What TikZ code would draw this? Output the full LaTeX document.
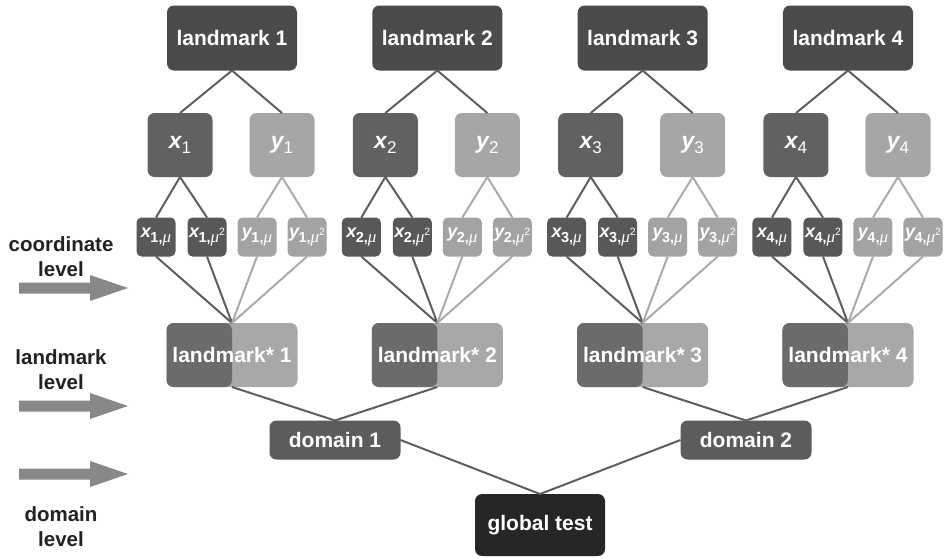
\documentclass[tikz,border=0pt]{standalone}
\usepackage{fontspec}
\setmainfont{Liberation Sans}
\newfontfamily\muface{Liberation Serif}
\usetikzlibrary{calc}

\definecolor{lmkgray}{HTML}{4B4B4B}
\definecolor{xgray}{HTML}{616161}
\definecolor{ygray}{HTML}{A6A6A6}
\definecolor{xsmall}{HTML}{585858}
\definecolor{ysmall}{HTML}{A3A3A3}
\definecolor{starleft}{HTML}{6B6B6B}
\definecolor{starright}{HTML}{A8A8A8}
\definecolor{domgray}{HTML}{5C5C5C}
\definecolor{globgray}{HTML}{262626}
\definecolor{darkline}{HTML}{5E5E5E}
\definecolor{lightline}{HTML}{ABABAB}
\definecolor{arrowgray}{HTML}{888888}
\definecolor{labelink}{HTML}{222222}

% bold italic variable with a lowered index
\newcommand{\bx}[1]{{\bfseries\itshape #1}}
\newcommand{\coordlab}[2]{\bx{#1}\raisebox{-5pt}{\fontsize{17}{17}\selectfont #2}}
\newcommand{\muchar}{{\muface\mdseries\itshape\fontsize{17}{17}\selectfont μ}}
\newcommand{\sqchar}{\raisebox{6.5pt}{\fontsize{10.5}{11}\selectfont\mdseries 2}}
\newcommand{\momlab}[2]{\bx{#1}\kern-0.5pt\raisebox{-4.5pt}{\fontsize{14.5}{15}\selectfont\bfseries #2}}

\begin{document}
\begin{tikzpicture}[x=1pt,y=-1pt,
  box/.style={rounded corners=7pt, inner sep=0pt, outer sep=0pt, text=white},
  lmk/.style={box, fill=lmkgray, minimum width=130pt, minimum height=65pt,
    font=\fontsize{21}{24}\selectfont\bfseries},
  xbox/.style={box, fill=xgray, minimum width=65pt, minimum height=64pt,
    font=\fontsize{23}{26}\selectfont},
  ybox/.style={xbox, fill=ygray},
  xsm/.style={box, rounded corners=5pt, fill=xsmall, minimum width=39pt, minimum height=39pt,
    font=\fontsize{18}{20}\selectfont},
  ysm/.style={xsm, fill=ysmall},
  starbox/.style={box, fill=starright, minimum width=131pt, minimum height=64pt,
    font=\fontsize{21}{24}\selectfont\bfseries,
    path picture={\fill[starleft] (path picture bounding box.south west)
      rectangle (path picture bounding box.north);}},
  dombox/.style={box, fill=domgray, minimum width=131pt, minimum height=39pt,
    font=\fontsize{21}{24}\selectfont\bfseries},
  globbox/.style={box, fill=globgray, minimum width=130pt, minimum height=62pt,
    font=\fontsize{21}{24}\selectfont\bfseries},
  dk/.style={draw=darkline, line width=2pt},
  lt/.style={draw=lightline, line width=2pt},
  lvl/.style={align=center, text=labelink, font=\fontsize{20.5}{25}\selectfont\bfseries},
]
\useasboundingbox (0,0) rectangle (948,558);

% one block per landmark: landmark, its two coordinates, their four moments, combined node
\foreach \i in {1,...,4} {
  \pgfmathsetmacro\cx{232+205.33*(\i-1)}
  \node[lmk]  (L\i)  at (\cx,38)     {landmark \i};
  \node[xbox] (X\i)  at (\cx-52,145) {\coordlab{x}{\i}};
  \node[ybox] (Y\i)  at (\cx+50,145) {\coordlab{y}{\i}};
  \node[xsm]  (XA\i) at (\cx-76,237) {\momlab{x}{\i,\muchar}};
  \node[xsm]  (XB\i) at (\cx-25,237) {\momlab{x}{\i,\muchar\sqchar}};
  \node[ysm]  (YA\i) at (\cx+25,237) {\momlab{y}{\i,\muchar}};
  \node[ysm]  (YB\i) at (\cx+75,237) {\momlab{y}{\i,\muchar\sqchar}};
  \node[starbox] (S\i) at (\cx,355) {landmark* \i};

  \draw[dk] (L\i.south) -- (X\i.north);
  \draw[dk] (L\i.south) -- (Y\i.north);
  \draw[dk] (X\i.south) -- (XA\i.north);
  \draw[dk] (X\i.south) -- (XB\i.north);
  \draw[lt] (Y\i.south) -- (YA\i.north);
  \draw[lt] (Y\i.south) -- (YB\i.north);
  \draw[dk] (XA\i.south) -- (S\i.north);
  \draw[dk] (XB\i.south) -- (S\i.north);
  \draw[lt] (YA\i.south) -- (S\i.north);
  \draw[lt] (YB\i.south) -- (S\i.north);
}

% domains and global test
\node[dombox]  (D1) at (335,440) {domain 1};
\node[dombox]  (D2) at (746,440) {domain 2};
\node[globbox] (G)  at (540,525) {global test};

\draw[dk] (S1.south) -- (D1.north);
\draw[dk] (S2.south) -- (D1.north);
\draw[dk] (S3.south) -- (D2.north);
\draw[dk] (S4.south) -- (D2.north);
\draw[dk] (D1.east) -- (G.north);
\draw[dk] (D2.west) -- (G.north);

% level labels and block arrows on the left
\node[lvl] (lc) at (61,257) {coordinate\\level};
\node[lvl] (ll) at (61,370) {landmark\\level};
\node[lvl] (ld) at (61,527) {domain\\level};

\foreach \y in {288,406,474} {
  \fill[arrowgray] (19,\y-5.5) -- (90,\y-5.5) -- (90,\y-13) -- (128,\y)
    -- (90,\y+13) -- (90,\y+5.5) -- (19,\y+5.5) -- cycle;
}
\end{tikzpicture}
\end{document}
